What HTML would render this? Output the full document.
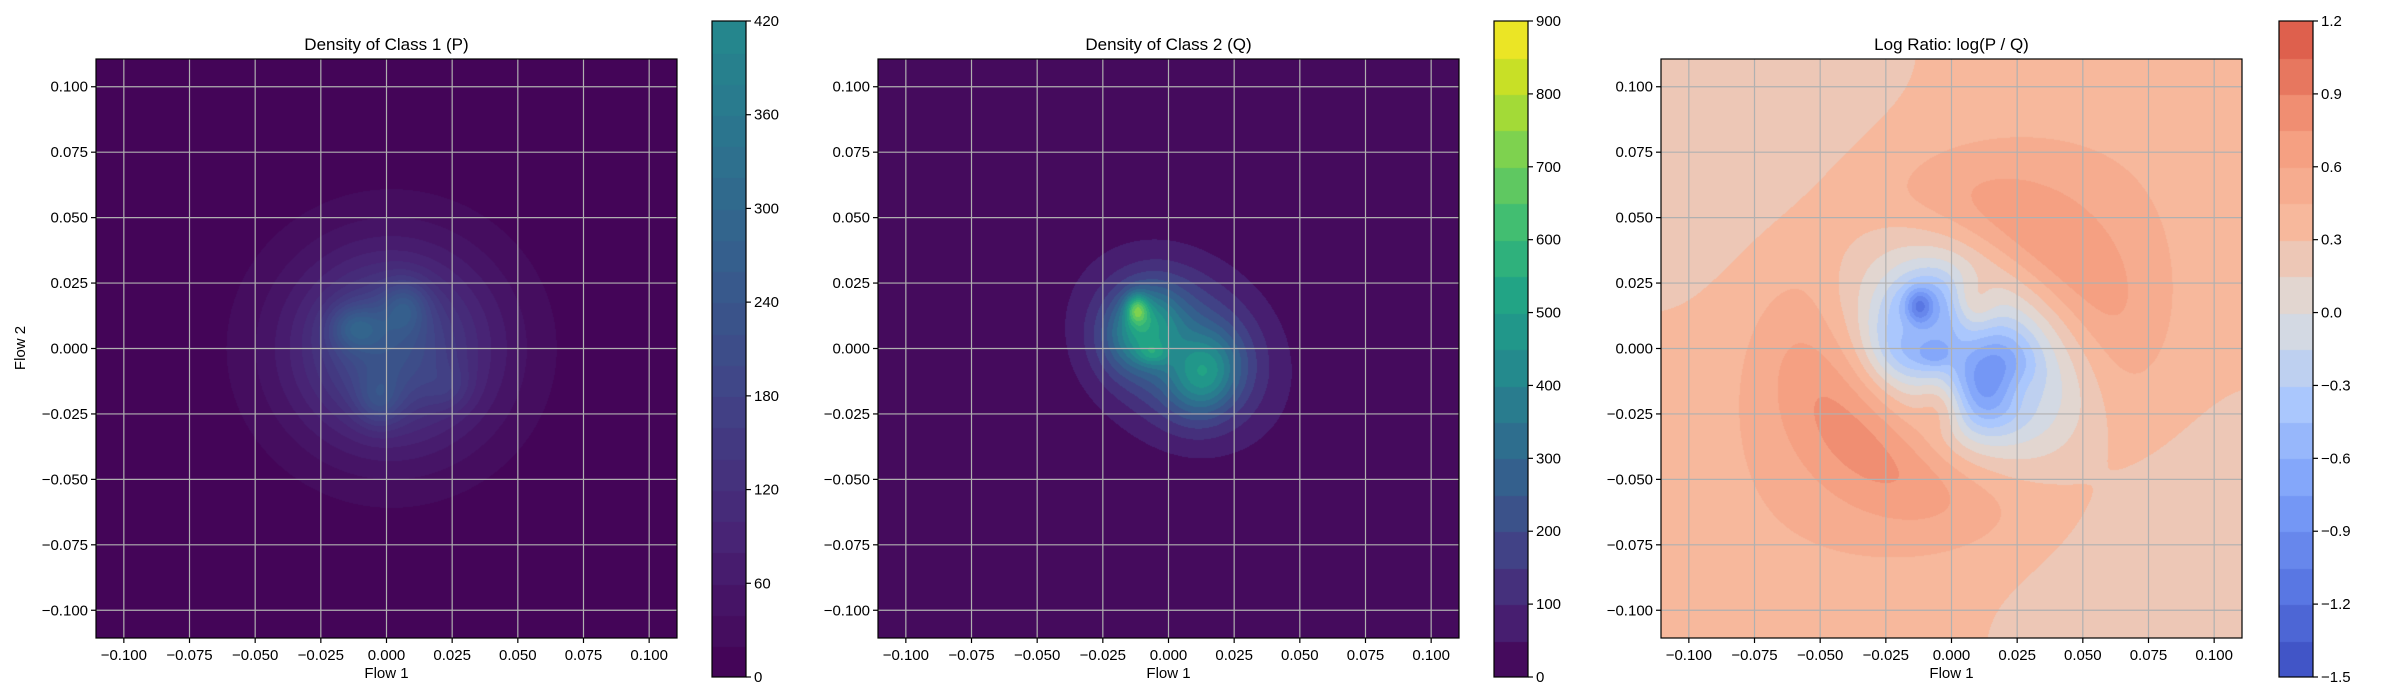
<!DOCTYPE html>
<html><head><meta charset="utf-8"><style>
html,body{margin:0;padding:0;background:#fff;}
#root{position:relative;width:2400px;height:700px;overflow:hidden;font-family:"Liberation Sans","DejaVu Sans",sans-serif;}
canvas{position:absolute;}
svg{position:absolute;left:0;top:0;}
</style></head><body>
<div id="root">
<canvas id="c1" width="581" height="579" style="left:96px;top:59px"></canvas>
<canvas id="c2" width="581" height="579" style="left:878px;top:59px"></canvas>
<canvas id="c3" width="581" height="579" style="left:1661px;top:59px"></canvas>
<canvas id="b1" width="34" height="656" style="left:712px;top:21px"></canvas>
<canvas id="b2" width="34" height="656" style="left:1494px;top:21px"></canvas>
<canvas id="b3" width="34" height="656" style="left:2279px;top:21px"></canvas>
<svg id="ov" width="2400" height="700"></svg>
</div>
<script>
// ---- data ----
const xTicks = [-0.1,-0.075,-0.05,-0.025,0,0.025,0.05,0.075,0.1];
const yTicks = [-0.1,-0.075,-0.05,-0.025,0,0.025,0.05,0.075,0.1];
const axisRange = [-0.1106, 0.1106];
// gaussian components: [cx, cy, sx, sy, angleDeg, amplitude]
const pComponents = [
  [0.002, 0.000, 0.031, 0.030, 0, 155],
  [0.000, 0.000, 0.018, 0.018, 0, 75],
  [-0.012, 0.008, 0.007, 0.006, 0, 100],
  [0.007, 0.016, 0.006, 0.007, 0, 85],
  [-0.003, -0.020, 0.006, 0.007, 0, 70],
  [0.024, -0.015, 0.006, 0.006, 0, 35]
];
const qComponents = [
  [0.004, 0.000, 0.025, 0.020, -40, 280],
  [-0.010, 0.008, 0.009, 0.011, -30, 300],
  [0.014, -0.010, 0.009, 0.011, -20, 260],
  [-0.012, 0.015, 0.003, 0.004, 0, 300],
  [-0.006, -0.002, 0.004, 0.003, 0, 120]
];
const pLevels = [0,20,40,60,80,100,120,140,160,180,200,220,240,260,280,300,320,340,360,380,400,420];
const qLevels = [0,50,100,150,200,250,300,350,400,450,500,550,600,650,700,750,800,850,900];
const rLevels = [-1.5,-1.35,-1.2,-1.05,-0.9,-0.75,-0.6,-0.45,-0.3,-0.15,0,0.15,0.3,0.45,0.6,0.75,0.9,1.05,1.2];
const pTicks = [0,60,120,180,240,300,360,420];
const qTicks = [0,100,200,300,400,500,600,700,800,900];
const rTicks = [-1.5,-1.2,-0.9,-0.6,-0.3,0.0,0.3,0.6,0.9,1.2];
const ratioEps = 25;
const ratioBaseline = 0.32;
const ratioAnisotropy = 0.1;

// ---- colormaps ----
const viridis=[[68,1,84],[72,36,117],[65,68,135],[53,95,141],[42,120,142],[33,145,140],[34,168,132],[68,191,112],[122,209,81],[189,223,38],[253,231,37]];
const coolwarm=[[59,76,192],[89,119,227],[123,159,249],[170,199,253],[221,221,221],[247,184,156],[244,154,123],[222,96,77],[180,4,38]];
function cmap(m,t){t=Math.max(0,Math.min(1,t));const f=t*(m.length-1);const i=Math.min(m.length-2,Math.floor(f));const u=f-i;
 return m[i].map((v,k)=>Math.round(v+(m[i+1][k]-v)*u));}
function bandColor(levels,v,m,lo,hi){let i=0;while(i<levels.length-2&&v>=levels[i+1])i++;
 const mid=(levels[i]+levels[i+1])/2;return cmap(m,(mid-lo)/(hi-lo));}

function mix(comps,x,y){let s=0;for(const c of comps){const a=c[4]*Math.PI/180,dx=x-c[0],dy=y-c[1];
 const u=dx*Math.cos(a)+dy*Math.sin(a),w=-dx*Math.sin(a)+dy*Math.cos(a);
 s+=c[5]*Math.exp(-0.5*(u*u/(c[2]*c[2])+w*w/(c[3]*c[3])));}return s;}

const W=581,H=579;
function px2x(i){return axisRange[0]+(i+0.5)/W*(axisRange[1]-axisRange[0]);}
function px2y(j){return axisRange[1]-(j+0.5)/H*(axisRange[1]-axisRange[0]);}
function render(id,fn){const cv=document.getElementById(id),ctx=cv.getContext('2d');const img=ctx.createImageData(W,H);
 for(let j=0;j<H;j++){const y=px2y(j);for(let i=0;i<W;i++){const col=fn(px2x(i),y);const k=(j*W+i)*4;
 img.data[k]=col[0];img.data[k+1]=col[1];img.data[k+2]=col[2];img.data[k+3]=255;}}ctx.putImageData(img,0,0);}
render('c1',(x,y)=>bandColor(pLevels,mix(pComponents,x,y),viridis,0,900));
render('c2',(x,y)=>bandColor(qLevels,mix(qComponents,x,y),viridis,0,900));
render('c3',(x,y)=>{const p=mix(pComponents,x,y),q=mix(qComponents,x,y);const th=Math.atan2(y,x);
 const off=(ratioBaseline+ratioAnisotropy*Math.cos(2*(th-Math.PI/4)))*ratioEps/(p+ratioEps);
 let r=Math.log((p+ratioEps)/(q+ratioEps))+off;r=Math.max(-1.49,Math.min(1.19,r));
 return bandColor(rLevels,r,coolwarm,-1.5,1.5);});
function renderBar(id,levels,m,lo,hi){const cv=document.getElementById(id),ctx=cv.getContext('2d');const h=cv.height;
 const a=levels[0],b=levels[levels.length-1];
 for(let i=0;i<levels.length-1;i++){const c=cmap(m,((levels[i]+levels[i+1])/2-lo)/(hi-lo));
  const y0=h-(levels[i+1]-a)/(b-a)*h,y1=h-(levels[i]-a)/(b-a)*h;ctx.fillStyle=`rgb(${c})`;ctx.fillRect(0,Math.floor(y0),cv.width,Math.ceil(y1-y0)+1);}}
renderBar('b1',pLevels,viridis,0,900);renderBar('b2',qLevels,viridis,0,900);renderBar('b3',rLevels,coolwarm,-1.5,1.5);

// ---- axes overlay ----
const NS='http://www.w3.org/2000/svg',ov=document.getElementById('ov');
function el(t,a,txt){const e=document.createElementNS(NS,t);for(const k in a)e.setAttribute(k,a[k]);if(txt!==undefined)e.textContent=txt;ov.appendChild(e);return e;}
function fmt(v,d){const s=Math.abs(v).toFixed(d);return (v<0?'\u2212':'')+s;}
const panels=[{L:96,title:'Density of Class 1 (P)',cb:712,ct:pTicks,cl:pLevels,cd:0,ylab:true,n:'p'},
 {L:878,title:'Density of Class 2 (Q)',cb:1494,ct:qTicks,cl:qLevels,cd:0,ylab:false,n:'q'},
 {L:1661,title:'Log Ratio: log(P / Q)',cb:2279,ct:rTicks,cl:rLevels,cd:1,ylab:false,n:'ratio'}];
const T=59;
for(const P of panels){
 const sx=v=>P.L+(v-axisRange[0])/(axisRange[1]-axisRange[0])*W;
 const sy=v=>T+(axisRange[1]-v)/(axisRange[1]-axisRange[0])*H;
 for(const v of xTicks){const x=sx(v);
  let e=el('line',{x1:x,x2:x,y1:T,y2:T+H,stroke:'#b0b0b0','stroke-width':1.2});
  
  el('line',{x1:x,x2:x,y1:T+H,y2:T+H+5,stroke:'#000','stroke-width':1.2});
  e=el('text',{x:x,y:T+H+22,'font-size':15,'text-anchor':'middle',fill:'#000'},fmt(v,3));
  }
 for(const v of yTicks){const y=sy(v);
  let e=el('line',{x1:P.L,x2:P.L+W,y1:y,y2:y,stroke:'#b0b0b0','stroke-width':1.2});
  
  el('line',{x1:P.L-5,x2:P.L,y1:y,y2:y,stroke:'#000','stroke-width':1.2});
  e=el('text',{x:P.L-8,y:y+5,'font-size':15,'text-anchor':'end',fill:'#000'},fmt(v,3));
  }
 let e=el('rect',{x:P.L,y:T,width:W,height:H,fill:'none',stroke:'#000','stroke-width':1.2});
 
 e=el('text',{x:P.L+W/2,y:50,'font-size':17,'text-anchor':'middle',fill:'#000'},P.title);
 
 e=el('text',{x:P.L+W/2,y:678,'font-size':15,'text-anchor':'middle',fill:'#000'},'Flow 1');
 
 if(P.ylab){e=el('text',{x:0,y:0,'font-size':15,'text-anchor':'middle',fill:'#000',transform:'translate(25,348) rotate(-90)'},'Flow 2');
  }
 const cT=21,cH=656,a=P.cl[0],b=P.cl[P.cl.length-1];
 e=el('rect',{x:P.cb,y:cT,width:34,height:cH,fill:'none',stroke:'#000','stroke-width':1.2});
 
 for(const v of P.ct){const y=cT+cH-(v-a)/(b-a)*cH;
  el('line',{x1:P.cb+34,x2:P.cb+39,y1:y,y2:y,stroke:'#000','stroke-width':1.2});
  e=el('text',{x:P.cb+42,y:y+5,'font-size':15,fill:'#000'},P.cd?fmt(v,1):String(v));
  }
}
</script>
</body></html>
